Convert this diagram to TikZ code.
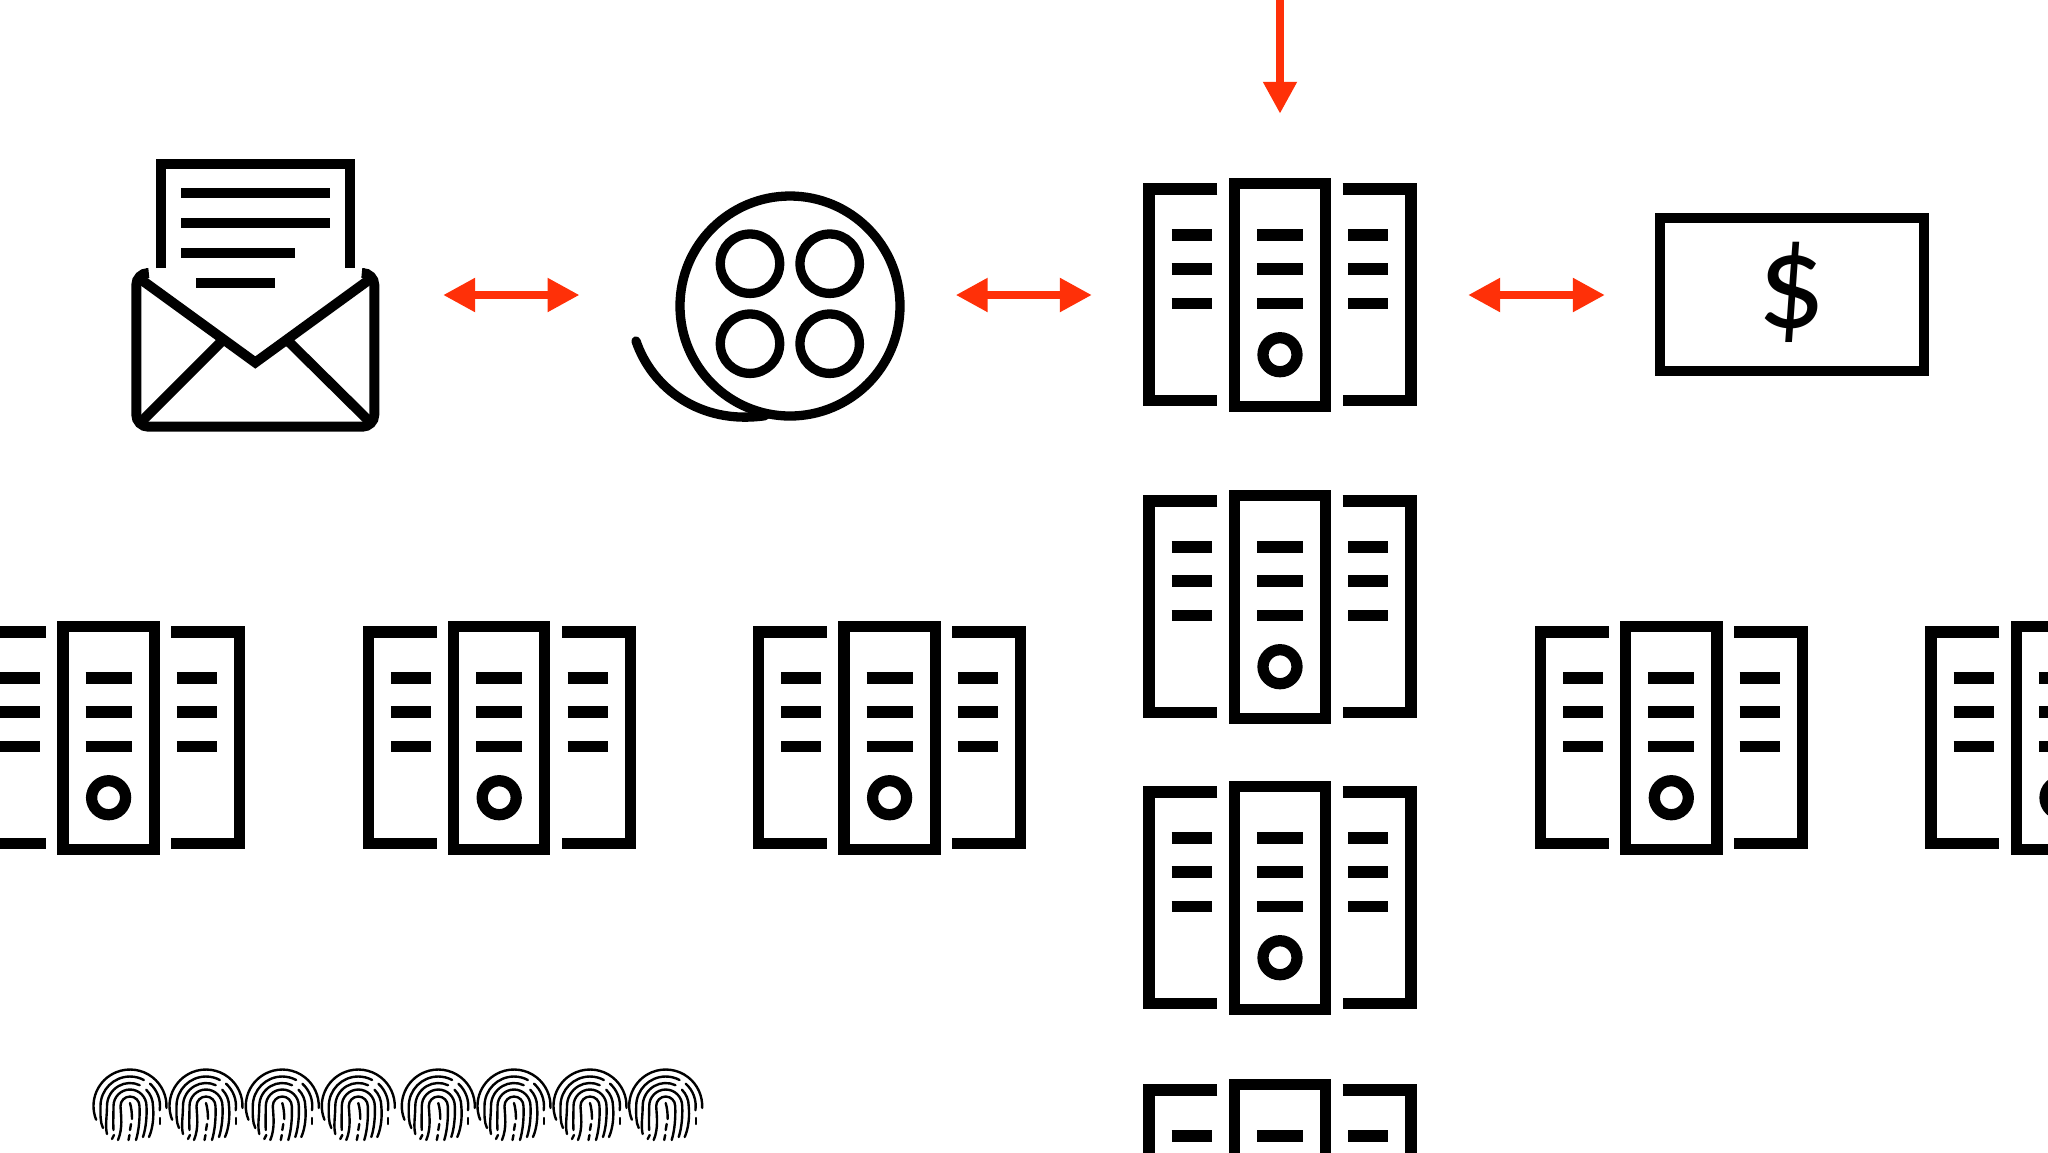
\documentclass[tikz,border=0pt]{standalone}
\usepackage{xcolor}
\usepackage{fontspec}
\setmainfont{Carlito}
\usepackage{tikz}
\usetikzlibrary{arrows.meta,positioning}
\definecolor{arrred}{HTML}{FF3008}
\tikzset{
  cell/.style={minimum width=4.70cm,minimum height=4.53cm,inner sep=0pt,outer sep=0pt},
  oarr/.style={-{Triangle[length=0.4cm,width=0.4cm]},arrred,line width=2.95pt},
  darr/.style={{Triangle[length=0.4cm,width=0.4cm]}-{Triangle[length=0.4cm,width=0.4cm]},arrred,line width=2.95pt},
  rackline/.style={line width=4pt},
  mailline/.style={line width=3.54pt},
  reelline/.style={line width=3.3pt},
  fpline/.style={line width=0.85pt,line cap=round},
}
% one rack: three binders, centre at (#1,#2)
\newcommand{\rack}[2]{
  \begin{scope}[shift={(#1,#2)},rackline]
    \draw (-62.7,-106)--(-131,-106)--(-131,105.3)--(-62.7,105.3);
    \draw (62.7,-106)--(131,-106)--(131,105.3)--(62.7,105.3);
    \draw (-45.6,-111.2) rectangle (45.6,111.2);
    \foreach \rowy in {-60,-26,8.3} {
      \draw (-108.3,\rowy)--(-68.3,\rowy);
      \draw (-23,\rowy)--(23,\rowy);
      \draw (68.3,\rowy)--(108.3,\rowy);
    }
    \draw (0,59.7) circle[radius=17];
  \end{scope}
}
% one fingerprint, centre at (#1,#2)
\newcommand{\fprint}[2]{
  \begin{scope}[shift={(#1,#2)},fpline]
    \draw (158:36.5) arc[start angle=158,end angle=363,radius=36.5];
    \draw (-27,22) .. controls (-30,16) and (-29.5,8) .. (-29.5,0) arc[start angle=180,end angle=298,radius=29.5];
    \draw (312:30) arc[start angle=312,end angle=368,radius=30];
    \draw (30,12)--(30,18);
    \draw (-23,28) .. controls (-25,20) and (-23,10) .. (-23,0) arc[start angle=180,end angle=295,radius=23];
    \draw (315:23) arc[start angle=315,end angle=360,radius=23] .. controls (24,10) and (23,22) .. (19,31);
    \draw (-16.5,24) .. controls (-17,16) and (-16.5,8) .. (-16.5,0) arc[start angle=180,end angle=360,radius=16.5] .. controls (17,10) and (16,22) .. (13,31);
    \draw (-12,34) .. controls (-7,22) and (-9,10) .. (-9.5,0) arc[start angle=180,end angle=360,radius=9.5] .. controls (10,12) and (9,24) .. (6,34);
    \draw (0,-3) .. controls (1.5,2) and (2,8) .. (2,13);
    \draw (1,18)--(0,24);
    \draw (-1.5,34)--(-0.5,29);
    \draw (-18,33)--(-16,29);
  \end{scope}
}

\begin{document}
\begin{tikzpicture}[x=0.0125cm,y=-0.0125cm]
\useasboundingbox (0,0) rectangle (2048,1152);
\clip (0,0) rectangle (2048,1152);
% Top row cells
\node[cell] (mail) at (255,295) {};
\node[cell] (reel) at (767.6,295) {};
\node[cell] (rackmain) at (1280,295) {};
\node[cell] (bill) at (1793,295) {};
\coordinate (feed) at (1280,0);
% Arrows
\draw[oarr] (feed)--(rackmain);
\draw[darr] (mail)--(reel);
\draw[darr] (reel)--(rackmain);
\draw[darr] (rackmain)--(bill);
% Mail
\draw[mailline] (161,268)--(161,164)--(350,164)--(350,268);
\draw[mailline] (181,193.3)--(330,193.3);
\draw[mailline] (181,223.3)--(330,223.3);
\draw[mailline] (181,253.3)--(295,253.3);
\draw[mailline] (196,283)--(275.3,283);
\draw[mailline,rounded corners=1.5mm] (146,273)--(136.3,273)--(136.3,426.7)--(374.3,426.7)--(374.3,273)--(364.6,273);
\draw[mailline] (141,279.5)--(255.3,362.5)--(369.5,279.5);
\draw[mailline] (141,422)--(224,339);
\draw[mailline] (286,339)--(370,422);
% Film reel
\draw[reelline] (790,306) circle[radius=110];
\foreach \holex/\holey in {750/263.7,829.7/263.7,750/343.7,829.7/343.7}
  \draw[reelline] (\holex,\holey) circle[radius=29.7];
\draw[reelline,line cap=round] (636,341) .. controls (652,388) and (700,425) .. (765,415.7);
% Bill
\draw[mailline] (1660.3,218.3) rectangle (1923.7,371.3);
\node[font=\fontsize{48}{48}\selectfont,inner sep=0pt] (dollar) at (1792,292.7) {\$};
% Racks
\rack{1280}{295}
\foreach \rackx/\racky in {1280/607,1280/898,1280/1196,108.6/738,499.2/738,889.6/738,1671.3/738,2062/738}
  {\rack{\rackx}{\racky}}
% Fingerprints
\foreach \fpx in {130,206,282.3,358.3,438.3,514,590,665.7}
  {\fprint{\fpx}{1106}}
\end{tikzpicture}
\end{document}
